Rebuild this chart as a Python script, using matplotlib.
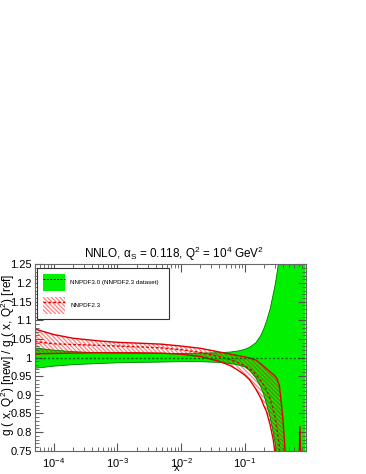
import numpy as np
import matplotlib
matplotlib.use('Agg')
import matplotlib.pyplot as plt
from matplotlib.patches import Patch
from matplotlib.lines import Line2D
from matplotlib.ticker import MultipleLocator, FormatStrFormatter, LogLocator

plt.rcParams['font.family'] = ['Liberation Sans', 'DejaVu Sans']
plt.rcParams['mathtext.fontset'] = 'custom'
plt.rcParams['mathtext.rm'] = 'Liberation Sans'
plt.rcParams['mathtext.it'] = 'Liberation Sans:italic'
plt.rcParams['hatch.linewidth'] = 0.9

# x grid
x = [5e-5, 1e-4, 2e-4, 5e-4, 1e-3, 2e-3, 5e-3, 1e-2, 2e-2, 4e-2, 6e-2, 0.08,
     0.1, 0.12, 0.15, 0.18, 0.2, 0.22, 0.25, 0.28, 0.3, 0.32, 0.35, 0.38,
     0.4, 0.43, 0.5, 0.6, 0.69, 0.736, 0.785, 0.85, 0.9]

# NNPDF3.0 (NNPDF2.3 dataset) band, ratio to itself
nn30_up = [1.026, 1.020, 1.016, 1.013, 1.012, 1.011, 1.011, 1.011, 1.012, 1.013, 1.015, 1.018,
           1.022, 1.028, 1.040, 1.060, 1.078, 1.098, 1.130, 1.170, 1.195, 1.225, 1.270, 1.32,
           1.36, 1.40, 1.50, 1.60, 1.70, 1.75, 1.80, 1.85, 1.90]
nn30_lo = [0.971, 0.977, 0.981, 0.984, 0.986, 0.987, 0.988, 0.989, 0.989, 0.987, 0.984, 0.980,
           0.975, 0.965, 0.945, 0.920, 0.900, 0.875, 0.840, 0.800, 0.770, 0.740, 0.650, 0.60,
           0.55, 0.50, 0.45, 0.40, 0.35, 0.30, 0.30, 0.30, 0.30]
nn30_cv = [1.0] * len(x)

# NNPDF2.3 band
nn23_up = [1.077, 1.062, 1.052, 1.045, 1.041, 1.039, 1.036, 1.031, 1.025, 1.015, 1.009, 1.005,
           1.002, 0.999, 0.993, 0.983, 0.976, 0.970, 0.962, 0.955, 0.950, 0.944, 0.925, 0.870,
           0.830, 0.750, 0.550, 0.450, 0.600, 0.815, 0.600, 0.400, 0.300]
nn23_lo = [1.010, 1.011, 1.012, 1.013, 1.013, 1.013, 1.012, 1.009, 1.003, 0.990, 0.978, 0.965,
           0.953, 0.940, 0.915, 0.890, 0.870, 0.855, 0.820, 0.780, 0.740, 0.680, 0.600, 0.50,
           0.45, 0.40, 0.30, 0.20, 0.20, 0.20, 0.20, 0.20, 0.20]
nn23_cv = [1.043, 1.037, 1.035, 1.033, 1.031, 1.029, 1.026, 1.021, 1.014, 1.003, 0.994, 0.986,
           0.978, 0.970, 0.955, 0.937, 0.925, 0.912, 0.890, 0.860, 0.840, 0.810, 0.760, 0.65,
           0.60, 0.50, 0.40, 0.30, 0.35, 0.40, 0.30, 0.25, 0.20]

green = '#00f000'
red = '#dd0000'
hatch_col = (1.0, 0.0, 0.0, 0.5)
hatch = '\\' * 8

fig = plt.figure(figsize=(3.66, 4.74), dpi=100)
ax = fig.add_axes([0.0943, 0.0492, 0.7404, 0.3928])

ax.fill_between(x, nn30_lo, nn30_up, color=green, lw=0)
ax.plot(x, nn30_up, color='#007700', lw=0.6)
ax.plot(x, nn30_lo, color='#007700', lw=0.6)

ax.fill_between(x, nn23_lo, nn23_up, facecolor='none', edgecolor=hatch_col,
                hatch=hatch, lw=0)
ax.plot(x, nn23_up, color=red, lw=1.0)
ax.plot(x, nn23_lo, color=red, lw=1.0)
ax.plot(x, nn23_cv, color=red, lw=1.0, dashes=(2, 1.5))
ax.plot(x, nn30_cv, color='#006600', lw=1.0, dashes=(1.5, 1.5))

ax.set_xscale('log')
ax.set_xlim(5e-5, 0.9)
ax.set_ylim(0.75, 1.25)
ax.yaxis.set_major_locator(MultipleLocator(0.05))
ax.yaxis.set_minor_locator(MultipleLocator(0.01))
ax.yaxis.set_major_formatter(FormatStrFormatter('%g'))
ax.xaxis.set_minor_locator(LogLocator(subs=np.arange(2, 10)))
ax.tick_params(which='both', direction='in', top=True, right=True,
               color='#555555', labelsize=8)
ax.tick_params(which='major', length=6)
ax.tick_params(which='minor', length=3)
ax.tick_params(axis='x', pad=4)
ax.tick_params(axis='y', pad=2)
for s in ax.spines.values():
    s.set_color('#666666')

ax.set_xlabel('x', fontsize=8)
ax.xaxis.set_label_coords(0.526, -0.065)
fig.text(0.022, 0.251, r'g ( x, Q$^{2}$) [new] / g ( x, Q$^{2}$) [ref]',
         rotation=90, ha='center', va='center', fontsize=8.6)
ax.set_title(r'NNLO, $\mathregular{\alpha_S}$ = 0.118, Q$^{2}$ = 10$^{4}$ GeV$^{2}$',
             fontsize=8.5, pad=5, x=0.515)

h1 = (Patch(facecolor=green, edgecolor='none'),
      Line2D([], [], color='black', lw=0.7, dashes=(2, 1.5)))
h2 = (Patch(facecolor='none', edgecolor=hatch_col, hatch=hatch, lw=0),
      Line2D([], [], color=red, lw=1.0, dashes=(2, 1.5)))
leg = ax.legend([h1, h2], ['NNPDF3.0 (NNPDF2.3 dataset)', 'NNPDF2.3'],
                loc='upper left', bbox_to_anchor=(0.009, 0.707, 0.487, 0.274),
                mode='expand', borderaxespad=0, fontsize=4.5,
                handlelength=3.6, handleheight=3.8, labelspacing=1.0,
                handletextpad=0.85, borderpad=0.9, fancybox=False,
                framealpha=1, edgecolor='#333333')
leg.get_frame().set_linewidth(0.8)

fig.savefig('out.png', dpi=100)
